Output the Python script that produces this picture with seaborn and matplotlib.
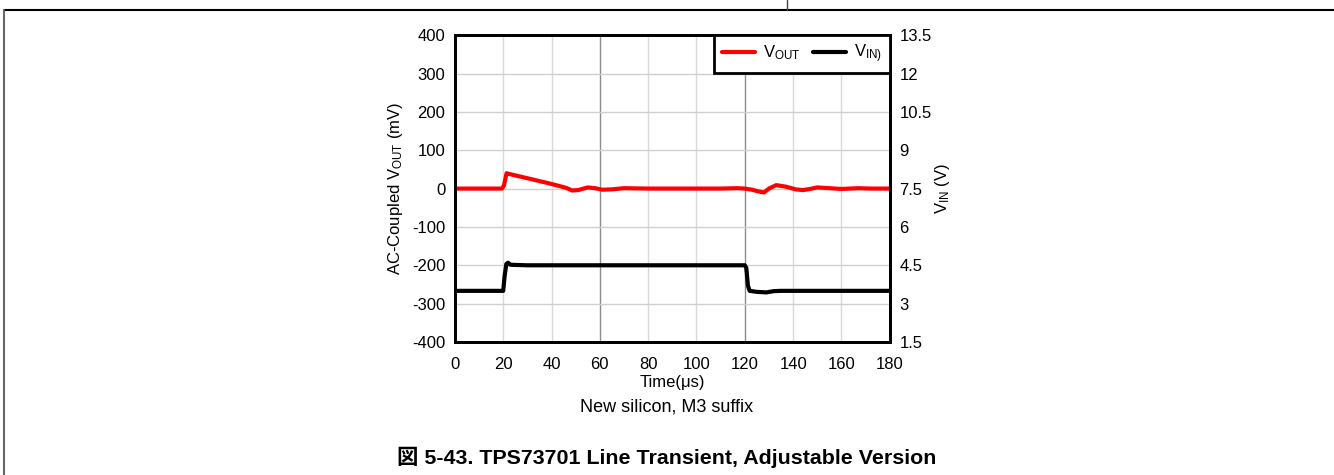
import numpy as np
import pandas as pd
import matplotlib
matplotlib.use('Agg')
import matplotlib.pyplot as plt
from matplotlib.lines import Line2D
import seaborn as sns

# VOUT trace (AC coupled, mV)
vout_time = [0, 10, 19.5, 20.3, 21.4, 22.5, 30, 40, 46, 48.5, 51, 55, 58, 61, 65, 70, 80, 90,
             100, 110, 117, 120, 123, 126, 128, 130, 133, 137, 141, 144, 147, 150, 155, 160, 167, 172, 180]
vout_mv = [0, 0, 0, 8, 40, 38, 27, 12, 2, -5, -4, 3, 1, -3, -2, 1, 0, 0,
           0, 0, 1, 0, -3, -8, -10, 0, 9, 5, -2, -4, -1, 3, 1, -1, 1, 0, 0]

# VIN trace (V)
vin_time = [0, 10, 20, 20.6, 21.3, 22, 23, 30, 60, 100, 120, 120.6, 121.3, 122, 125, 129, 132, 135, 140, 180]
vin_v = [3.5, 3.5, 3.5, 4.1, 4.55, 4.6, 4.52, 4.5, 4.5, 4.5, 4.5, 4.4, 3.7, 3.5, 3.46, 3.44, 3.49, 3.5, 3.5, 3.5]

x_ticks = [0, 20, 40, 60, 80, 100, 120, 140, 160, 180]
left_ticks = [-400, -300, -200, -100, 0, 100, 200, 300, 400]
right_ticks = [1.5, 3, 4.5, 6, 7.5, 9, 10.5, 12, 13.5]

sns.set_style('white')
plt.rcParams['font.family'] = ['Liberation Sans', 'Noto Sans CJK JP', 'DejaVu Sans']
plt.rcParams['mathtext.fontset'] = 'custom'
plt.rcParams['mathtext.rm'] = 'Liberation Sans'
plt.rcParams['mathtext.it'] = 'Liberation Sans'
plt.rcParams['mathtext.default'] = 'rm'
plt.rcParams['axes.unicode_minus'] = False
plt.rcParams['text.color'] = 'black'
plt.rcParams['axes.labelcolor'] = 'black'
plt.rcParams['xtick.color'] = 'black'
plt.rcParams['ytick.color'] = 'black'

df_out = pd.DataFrame({'t': vout_time, 'v': vout_mv})
df_in = pd.DataFrame({'t': vin_time, 'v': vin_v})

fig = plt.figure(figsize=(13.34, 4.75), dpi=100)
ax = fig.add_axes([0.341, 0.280, 0.326, 0.646])

ax.set_xlim(0, 180)
ax.set_ylim(-400, 400)
ax.set_xticks(x_ticks)
ax.set_yticks(left_ticks)

# grid: light lines, darker at 60 and 120
for xv in x_ticks[1:-1]:
    c = '#8c8c8c' if xv in (60, 120) else '#d9d9d9'
    ax.axvline(xv, color=c, lw=1, zorder=0)
for yv in left_ticks[1:-1]:
    ax.axhline(yv, color='#d0d0d0', lw=1, zorder=0)

sns.lineplot(data=df_out, x='t', y='v', ax=ax, color='#ff0000', linewidth=3, zorder=3)

ax2 = ax.twinx()
ax2.set_ylim(1.5, 13.5)
ax2.set_yticks(right_ticks)
ax2.set_yticklabels(['1.5', '3', '4.5', '6', '7.5', '9', '10.5', '12', '13.5'])
sns.lineplot(data=df_in, x='t', y='v', ax=ax2, color='black', linewidth=3, zorder=3)

for a in (ax, ax2):
    for s in a.spines.values():
        s.set_linewidth(2)
        s.set_color('black')
    a.tick_params(axis='y', length=0, labelsize=12, pad=7)
ax.tick_params(axis='x', length=0, labelsize=12, pad=11)

ax.set_xlabel('Time(\u03bcs)', fontsize=12, labelpad=2)
ax.set_ylabel('AC-Coupled V$_{\\mathrm{OUT}}$ (mV)', fontsize=12, labelpad=5)
ax2.set_ylabel('V$_{\\mathrm{IN}}$ (V)', fontsize=12, labelpad=1)

handles = [Line2D([], [], color='#ff0000', lw=3), Line2D([], [], color='black', lw=3)]
leg = ax2.legend(handles, ['V$_{\\mathrm{OUT}}$', 'V$_{\\mathrm{IN)}}$'], loc='upper right', ncol=2,
                 fontsize=12, frameon=True, fancybox=False, borderaxespad=0,
                 handlelength=2.0, columnspacing=0.7, handletextpad=0.5, borderpad=0.45)
leg.get_frame().set_edgecolor('black')
leg.get_frame().set_linewidth(2)
leg.get_frame().set_alpha(1)

fig.text(0.5, 0.143, 'New silicon, M3 suffix', ha='center', va='center', fontsize=13)
fig.text(0.5, 0.037, '図 5-43. TPS73701 Line Transient, Adjustable Version', ha='center', va='center',
         fontsize=15.4, fontweight='bold')

# page frame lines
fig.add_artist(Line2D([0.003, 1.0], [0.979, 0.979], color='black', lw=1.5))
fig.add_artist(Line2D([0.003, 0.003], [0.0, 0.979], color='#666666', lw=1.5))
fig.add_artist(Line2D([0.590, 0.590], [0.979, 1.0], color='#444444', lw=1))

plt.savefig('out.png', dpi=100)
